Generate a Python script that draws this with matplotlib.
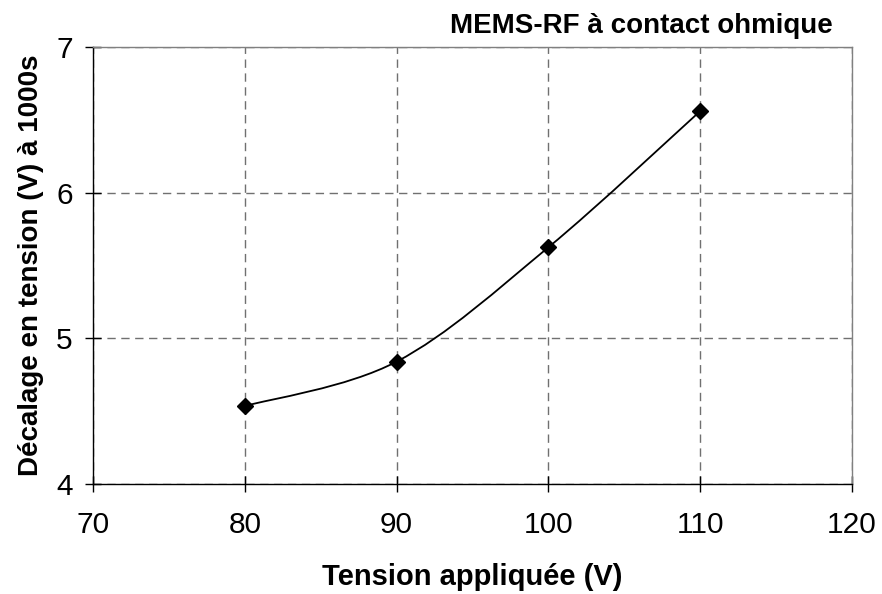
import matplotlib
matplotlib.use("Agg")
import matplotlib.pyplot as plt
from matplotlib.path import Path
from matplotlib.patches import PathPatch
import numpy as np

x_vals = [80, 90, 100, 110]
y_vals = [4.535, 4.84, 5.625, 6.56]
x_ticks = [70, 80, 90, 100, 110, 120]
y_ticks = [4, 5, 6, 7]
title = "MEMS-RF à contact ohmique"
xlabel = "Tension appliquée (V)"
ylabel = "Décalage en tension (V) à 1000s"

plt.rcParams['font.family'] = ['Liberation Sans', 'DejaVu Sans']

fig = plt.figure(figsize=(8.82, 5.94), dpi=100)
ax = fig.add_axes([93/882, 1 - 484/594, (852 - 93)/882, (484 - 47)/594])
ax.set_xlim(70, 120)
ax.set_ylim(4, 7)
ax.set_xticks(x_ticks)
ax.set_yticks(y_ticks)
ax.grid(True, color='#707070', linestyle=(0, (6, 4)), linewidth=1.0)
ax.set_axisbelow(True)

for s in ['top', 'right']:
    ax.spines[s].set_color('#808080')
    ax.spines[s].set_linewidth(1.0)
for s in ['left', 'bottom']:
    ax.spines[s].set_color('black')
    ax.spines[s].set_linewidth(1.0)

ax.tick_params(direction='inout', length=11, width=1.0, labelsize=21.5, pad=9)
ax.tick_params(axis='x', pad=14)

# Smoothed line (Bezier through data points, Excel-style)
pts = np.column_stack([x_vals, y_vals]).astype(float)
ext = np.vstack([pts[0], pts, pts[-1]])
verts = [tuple(pts[0])]
codes = [Path.MOVETO]
for i in range(len(pts) - 1):
    p0, p1, p2, p3 = ext[i], ext[i + 1], ext[i + 2], ext[i + 3]
    c1 = p1 + (p2 - p0) / 6.0
    c2 = p2 - (p3 - p1) / 6.0
    verts += [tuple(c1), tuple(c2), tuple(p2)]
    codes += [Path.CURVE4] * 3
ax.add_patch(PathPatch(Path(verts, codes), facecolor='none', edgecolor='black', linewidth=1.3, zorder=3))
ax.plot(x_vals, y_vals, linestyle='none', marker='D', markersize=8, color='black', zorder=4)

ax.set_xlabel(xlabel, fontsize=21, fontweight='bold', labelpad=17)
ax.set_ylabel(ylabel, fontsize=20, fontweight='bold', labelpad=9)
fig.text(833/882, 1 - 33/594, title, fontsize=20, fontweight='bold', ha='right', va='baseline')

fig.savefig('out.png', dpi=100)
